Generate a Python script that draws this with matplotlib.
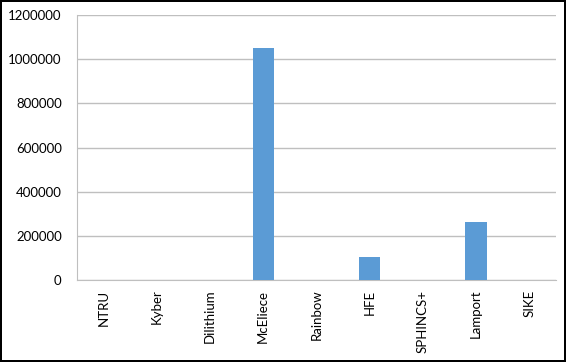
import numpy as np
import matplotlib
matplotlib.use('Agg')
import matplotlib.pyplot as plt

# Dati
schemi = ['NTRU', 'Kyber', 'Dilithium', 'McEliece', 'Rainbow', 'HFE', 'SPHINCS+', 'Lamport', 'SIKE']
valori = [0, 0, 0, 1048576, 0, 103000, 0, 262144, 0]
yticks = [0, 200000, 400000, 600000, 800000, 1000000, 1200000]

plt.rcParams['font.family'] = ['Lato', 'DejaVu Sans']

fig = plt.figure(figsize=(5.66, 3.62), dpi=100)
fig.patch.set_edgecolor('black')
fig.patch.set_linewidth(1.5)
ax = fig.add_axes([0.136, 0.2265, 0.846, 0.732])

x = np.arange(len(schemi))
ax.bar(x, valori, width=0.4, color='#5B9BD5', zorder=3)

ax.set_xlim(-0.5, len(schemi) - 0.5)
ax.set_ylim(0, 1200000)
ax.set_yticks(yticks)
ax.set_yticklabels([str(v) for v in yticks], fontsize=9.5)
ax.set_xticks(x)
ax.set_xticklabels(schemi, rotation=90, fontsize=9.5)
ax.tick_params(axis='both', length=0, colors='black')
ax.tick_params(axis='y', pad=11)
ax.tick_params(axis='x', pad=7)

ax.grid(axis='y', color='#BFBFBF', linewidth=1, zorder=0)
for s in ['top', 'right']:
    ax.spines[s].set_visible(False)
ax.spines['left'].set_color('#BFBFBF')
ax.spines['bottom'].set_color('#BFBFBF')

fig.savefig('out.png', dpi=100)
